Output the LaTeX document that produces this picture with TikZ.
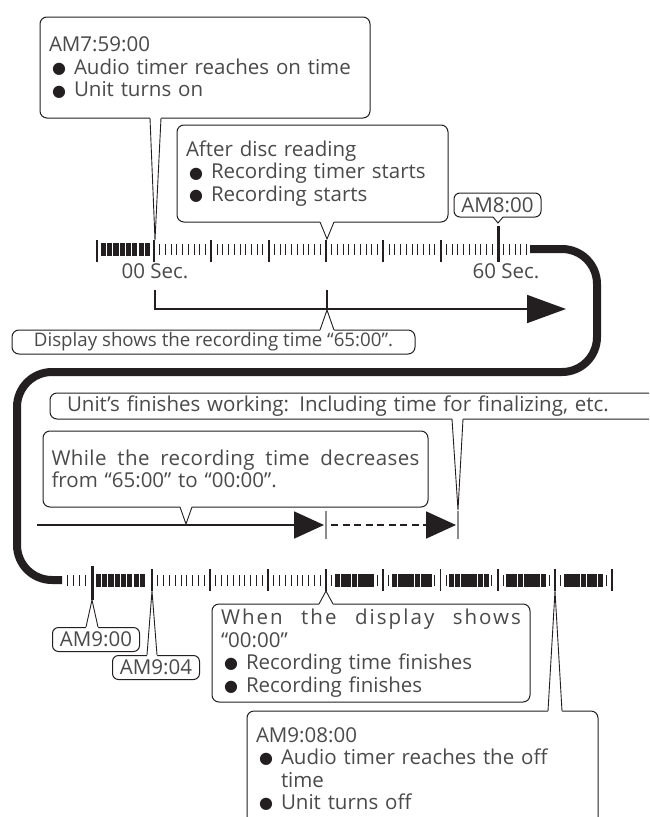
\documentclass[tikz,border=0pt]{standalone}
\usepackage{fontspec}
\setmainfont{Open Sans}
\newfontfamily\dejavu{DejaVu Sans}
\usetikzlibrary{arrows.meta}
\definecolor{linec}{HTML}{231F20}
\definecolor{txtc}{HTML}{4A4A4A}
\definecolor{tickgray}{HTML}{8C8C8C}
\newcommand\bul{\makebox[25pt][l]{\hspace*{3pt}\raisebox{0.8pt}{\dejavu\fontsize{16}{16}\selectfont\color{linec}●}}}
\newcommand\callptr[5]{%
  \fill[white] (#1,#4) -- (#1,#3) -- (#5) -- (#2,#3) -- (#2,#4) -- cycle;
  \draw[ptr] (#1,#3) -- (#5) -- (#2,#3);}
\begin{document}
\begin{tikzpicture}[x=1pt,y=-1pt,
  every node/.style={text=txtc, font=\fontsize{20.5}{22.5}\selectfont},
  callout/.style={draw=linec, line width=1pt, rounded corners=7pt, fill=white, align=left, inner sep=0pt},
  tag/.style={draw=linec, line width=1pt, rounded corners=6pt, fill=white, inner sep=0pt, minimum width=87pt, minimum height=24pt},
  ptr/.style={draw=linec, line width=0.9pt},
  major/.style={linec, line width=1.8pt},
  minor/.style={linec, line width=0.9pt},
  blk/.style={linec, line width=5.2pt},
  arr/.style={linec, line width=1.8pt},
  gtick/.style={tickgray, line width=1.6pt},
  bigtip/.style={-{Triangle[length=39pt,width=28pt]}},
  midtip/.style={-{Triangle[length=30pt,width=27pt]}}
  ]
\clip (0,0) rectangle (649,817);
\fill[white] (0,0) rectangle (649,817);

% thick connector between the two time lines
\coordinate (lineAend) at (530,249);
\coordinate (lineBstart) at (62,580);
\draw[linec, line width=8pt, rounded corners=35pt] (lineAend) -- (597,249) -- (597,372) -- (17,372) -- (17,580) -- (lineBstart);

% ---------- time line 1 ----------
\draw[major] (97,240) -- (97,262);
\foreach \j in {1,...,8} \draw[blk] ({97+6.3*\j},243) -- ({97+6.3*\j},256);
\foreach \j in {0,...,65}{
  \pgfmathsetmacro\xx{154+5.7333*\j}
  \pgfmathtruncatemacro\mm{mod(\j,10)}
  \ifnum\mm=0 \draw[major] (\xx,240) -- (\xx,262);
  \else \draw[minor] (\xx,244) -- (\xx,255); \fi
}
\draw[linec, line width=3pt] (498,226) -- (498,262);
\node (s00) at (155,271) {00 Sec.};
\node (s60) at (506,271) {60 Sec.};

% bracket arrow
\draw[arr] (327,290) -- (327,309);
\draw[arr, bigtip] (155,290) -- (155,309) -- (566,309);

% ---------- time line 2 ----------
\foreach \x in {67,73,79,85} \draw[minor] (\x,575) -- (\x,586);
\draw[linec, line width=3pt] (92,566) -- (92,600);
\foreach \j in {1,...,8} \draw[blk] ({92+6.3*\j},574) -- ({92+6.3*\j},587);
\foreach \j in {0,...,30}{
  \pgfmathsetmacro\xx{152+5.8*\j}
  \pgfmathtruncatemacro\mm{mod(\j,10)}
  \ifnum\mm=0 \draw[major] (\xx,569) -- (\xx,591);
  \else \draw[minor] (\xx,575) -- (\xx,586); \fi
}
\foreach \k in {0,...,4}{
  \pgfmathsetmacro\ss{326+57.2*\k}
  \draw[minor] ({\ss+5.72},575) -- ({\ss+5.72},586);
  \draw[minor] ({\ss+51.5},575) -- ({\ss+51.5},586);
  \foreach \m in {2,...,8} \draw[blk] ({\ss+5.72*\m},574) -- ({\ss+5.72*\m},587);
  \draw[major] ({\ss+57.2},569) -- ({\ss+57.2},591);
}

% arrows row
\draw[arr, midtip] (37,525) -- (324,525);
\draw[gtick] (326,511) -- (326,539);
\draw[arr, dash pattern=on 7pt off 4.5pt, midtip] (331,525) -- (456,525);
\draw[gtick] (458,511) -- (458,539);

% ---------- callouts ----------
\node[callout, minimum width=330pt, minimum height=101pt, text width=312pt] (c1) at (205,67.5)
  {AM7:59:00\\\bul Audio timer reaches on time\\\bul Unit turns on};
\coordinate (c1tip) at (155,240);
\callptr{150}{161}{118}{116}{c1tip}

\node[callout, minimum width=271pt, minimum height=97pt, text width=253pt] (c2) at (312.5,173.5)
  {After disc reading\\\bul Recording timer starts\\\bul Recording starts};
\coordinate (c2tip) at (327,239);
\callptr{320}{334}{222}{220}{c2tip}

\node[tag] (am800) at (497.5,205) {AM8:00};
\coordinate (am800tip) at (498,223);
\callptr{493}{503}{217}{215}{am800tip}

\node[callout, minimum width=403pt, minimum height=24pt, align=center, font=\fontsize{18.7}{22.5}\selectfont] (disp) at (213.5,342)
  {Display shows the recording time “65:00”.};
\coordinate (disptip) at (327,310);
\callptr{320}{334}{330}{332}{disptip}

\node[callout, minimum width=615pt, minimum height=26pt, text width=597pt] (fin) at (357.5,406)
  {\hspace*{8pt}Unit’s finishes working: Including time for finalizing, etc.};
\coordinate (fintip) at (458,510);
\callptr{452}{463}{419}{417}{fintip}

\node[callout, minimum width=385pt, minimum height=76pt, text width=368pt] (dec) at (235.5,469)
  {\makebox[368pt][s]{\addfontfeature{LetterSpace=2}While\hfill the\hfill recording\hfill time\hfill decreases}\\from “65:00” to “00:00”.};
\coordinate (dectip) at (186,524);
\callptr{180}{192}{507}{505}{dectip}

\node[callout, minimum width=318pt, minimum height=98pt, text width=300pt] (disp0) at (371,653)
  {\makebox[300pt][s]{\addfontfeature{LetterSpace=10}When\hfill the\hfill display\hfill shows}\\“00:00”\\\bul Recording time finishes\\\bul Recording finishes};
\coordinate (disp0tip) at (326,591);
\callptr{319}{333}{604}{606}{disp0tip}

\node[tag] (am900) at (96,639.5) {AM9:00};
\coordinate (am900tip) at (92,600);
\callptr{86}{98}{627}{629}{am900tip}

\node[tag] (am904) at (156,667.5) {AM9:04};
\coordinate (am904tip) at (152,591);
\callptr{147}{157}{655}{657}{am904tip}

\node[callout, minimum width=351pt, minimum height=116pt, text width=333pt] (off) at (422.5,769)
  {AM9:08:00\\\bul Audio timer reaches the off\\\hspace*{25pt}time\\\bul Unit turns off};
\coordinate (offtip) at (555,591);
\callptr{548}{562}{711}{713}{offtip}
\end{tikzpicture}
\end{document}
